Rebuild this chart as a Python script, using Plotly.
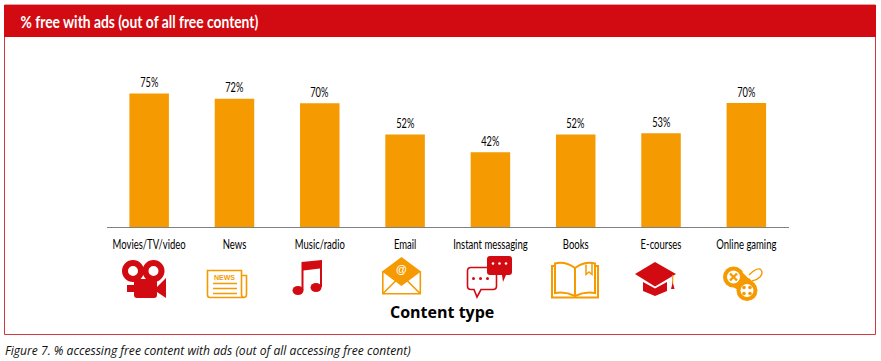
import base64
import plotly.graph_objects as go

categories = ["Movies/TV/video", "News", "Music/radio", "Email", "Instant messaging", "Books", "E-courses", "Online gaming"]
values = [75, 72, 69.5, 52, 42, 52, 52.6, 69.6]
title_text = "% free with ads (out of all free content)"
axis_text = "Content type"
caption_text = "Figure 7. % accessing free content with ads (out of all accessing free content)"

W, H = 881, 361
RED = "#D20A11"
ORANGE = "#F59A00"
NARROW = "Lato"

ICONS = f'''<svg xmlns="http://www.w3.org/2000/svg" width="{W}" height="{H}" viewBox="0 0 {W} {H}">
<g fill="{RED}">
<path fill-rule="evenodd" d="M122 271a11 11 0 1 0 22 0a11 11 0 1 0 -22 0zM128 271a5 5 0 1 1 10 0a5 5 0 1 1 -10 0z"/>
<path fill-rule="evenodd" d="M142.500 271a11 11 0 1 0 22 0a11 11 0 1 0 -22 0zM148.500 271a5 5 0 1 1 10 0a5 5 0 1 1 -10 0z"/>
<rect x="134" y="279" width="23" height="19" rx="3"/>
<path d="M157 287L166 278V298L157 292Z"/>
<rect x="127" y="285" width="7" height="7"/>
</g>
<g fill="none" stroke="{ORANGE}" stroke-width="1.6">
<path d="M207.500 270.500H241.500V294Q241.500 297.500 244 297.500H210Q207.500 297.500 207.500 295Z"/>
<path d="M241.500 275.500H246.500V294Q246.500 297.500 243.500 297.500"/>
<path d="M213 283.500H237M213 288.500H237M213 293.500H237"/>
</g>
<g fill="{RED}">
<ellipse cx="298" cy="290.500" rx="5.500" ry="4.500"/>
<ellipse cx="316" cy="287.500" rx="5.500" ry="4.500"/>
<path d="M301.500 290V262L322 260V287H320V268.500L303.500 270.500V290Z"/>
</g>
<g>
<path d="M401.500 257L421 271.500L401.500 286L382 271.500Z" fill="{ORANGE}"/>
<path d="M382.800 271V293.700H420.300V271M382.800 293.700L396 280.500M420.300 293.700L407 280.500" fill="none" stroke="{ORANGE}" stroke-width="1.6"/>
</g>
<g>
<path d="M471 267.500H493Q496.500 267.500 496.500 271V286Q496.500 289.500 493 289.500H481L477 297L474 289.500H471Q467.500 289.500 467.500 286V271Q467.500 267.500 471 267.500Z" fill="#fff" stroke="{RED}" stroke-width="1.6"/>
<path d="M490 256H509Q512 256 512 259V272Q512 275 509 275H506L503 282L502 275H490Q487 275 487 272V259Q487 256 490 256Z" fill="{RED}"/>
<g fill="{RED}"><circle cx="473.500" cy="278.500" r="1.500"/><circle cx="480.500" cy="278.500" r="1.500"/><circle cx="487.500" cy="278.500" r="1.500"/></g>
<g fill="#fff"><circle cx="493" cy="263.500" r="1.300"/><circle cx="499.500" cy="263.500" r="1.300"/><circle cx="506" cy="263.500" r="1.300"/></g>
</g>
<g fill="none" stroke="{ORANGE}" stroke-width="2">
<path d="M575 268Q565 261 555 263.500V293Q565 291 575 296Q585 291 595 293V263.500Q585 261 575 268V296"/>
<path d="M555 266H552V297.500H598V266H595"/>
<path d="M586 264.500V274.500L589 272L592 274.500V263" stroke-width="1.500"/>
</g>
<g>
<path d="M643 282L655 288.500L667 282V291L655 296L643 291Z" fill="{RED}"/>
<path d="M635 274L655 262L676 274L655 286.500Z" fill="{RED}"/>
<path d="M672.700 275V283" stroke="{ORANGE}" stroke-width="1.200"/>
<path d="M671 289L672.700 282L674.500 289Z" fill="{RED}"/>
</g>
<g>
<circle cx="733.500" cy="277" r="10.500" fill="{ORANGE}"/>
<circle cx="747" cy="290.500" r="10.500" fill="{ORANGE}"/>
<path d="M741 270L753 282L741 292L727 283Z" fill="{ORANGE}"/>
<circle cx="733.500" cy="277" r="6.500" fill="#fff"/>
<circle cx="747" cy="290.500" r="6.500" fill="#fff"/>
<path d="M730 273.500L737 280.500M737 273.500L730 280.500" stroke="{ORANGE}" stroke-width="2.400"/>
<g fill="{ORANGE}"><circle cx="744" cy="287.500" r="1.800"/><circle cx="750" cy="287.500" r="1.800"/><circle cx="744" cy="293.500" r="1.800"/><circle cx="750" cy="293.500" r="1.800"/></g>
<path d="M743 272L749 278" stroke="#fff" stroke-width="1.200"/>
<path d="M749 275Q756 268 760 269Q764 272 760 277Q757 280 752 281" fill="none" stroke="{ORANGE}" stroke-width="1.500"/>
</g>
</svg>'''
icons_uri = "data:image/svg+xml;base64," + base64.b64encode(ICONS.encode()).decode()


def px(x):
    return x / W


def py(y):
    return 1 - y / H


def note(text, x, y, size, color="#000", family=NARROW, anchor="center", bold=False, italic=False):
    if bold:
        text = f"<b>{text}</b>"
    if italic:
        text = f"<i>{text}</i>"
    return dict(text=text, x=px(x), y=py(y), xref="paper", yref="paper", xanchor=anchor, yanchor="middle",
                showarrow=False, font=dict(size=size, color=color, family=family))


value_labels = [dict(x=c, y=v, xref="x", yref="y", text=f"{v:.0f}%", showarrow=False, yanchor="bottom", yshift=1.5,
                     font=dict(size=12.5, color="#000", family=NARROW))
                for c, v in zip(categories, values)]

fig = go.Figure(go.Bar(
    x=categories, y=values, marker=dict(color=ORANGE, line_width=0), hoverinfo="skip",
))

fig.update_layout(
    width=W, height=H, margin=dict(l=0, r=0, t=0, b=0, autoexpand=False), autosize=False,
    paper_bgcolor="#fff", plot_bgcolor="rgba(0,0,0,0)", showlegend=False, bargap=0.537,
    font=dict(family=NARROW),
    xaxis=dict(domain=[px(106.5), px(789)], type="category", showgrid=False, zeroline=False, automargin=False,
               showline=True, linecolor="#808080", linewidth=1, ticks="outside", ticklen=6,
               tickcolor="rgba(0,0,0,0)", tickfont=dict(size=12.5, color="#000", family=NARROW), tickangle=0),
    yaxis=dict(domain=[py(227), py(49)], range=[0, 100], visible=False),
    shapes=[
        dict(type="rect", xref="paper", yref="paper", x0=px(4.5), x1=px(875.5), y0=py(334.5), y1=py(5),
             fillcolor="#fff", line=dict(color="#CF3A40", width=1), layer="below"),
        dict(type="rect", xref="paper", yref="paper", x0=px(4), x1=px(876), y0=py(37), y1=py(5),
             fillcolor=RED, line_width=0, layer="below"),
    ],
    images=[dict(source=icons_uri, xref="paper", yref="paper", x=0, y=1, sizex=1, sizey=1,
                 xanchor="left", yanchor="top", sizing="stretch", layer="above")],
    annotations=value_labels + [
        note(title_text, 139.5, 22, 17.5, "#fff", bold=True),
        note(axis_text, 441.5, 312, 16, family="Open Sans", bold=True),
        note(caption_text, 3, 350, 12.1, "#111", family="Open Sans", anchor="left", italic=True),
        note("NEWS", 224, 277, 7, ORANGE, family="Liberation Sans", bold=True),
        note("@", 401.5, 269, 11, "#fff", family="Liberation Sans", bold=True),
    ],
)

# The reference uses a condensed face that is not installed: narrow the real text to the same widths.
squeeze = """
document.body.style.margin='0';
var gd=document.querySelector('.plotly-graph-div');
function nar(t,f){var n=t.getComputedTextLength();t.setAttribute('textLength',n*f);t.setAttribute('lengthAdjust','spacingAndGlyphs');}
gd.querySelectorAll('.xtick text').forEach(function(t){nar(t,0.76);});
gd.querySelectorAll('.annotation').forEach(function(a){
  var i=+a.getAttribute('data-index');var t=a.querySelector('text');
  if(i<8){nar(t,0.74);} else if(i===8){nar(t,0.79);}
});
"""
fig.write_html("out.html", config={"displayModeBar": False}, post_script=squeeze)
